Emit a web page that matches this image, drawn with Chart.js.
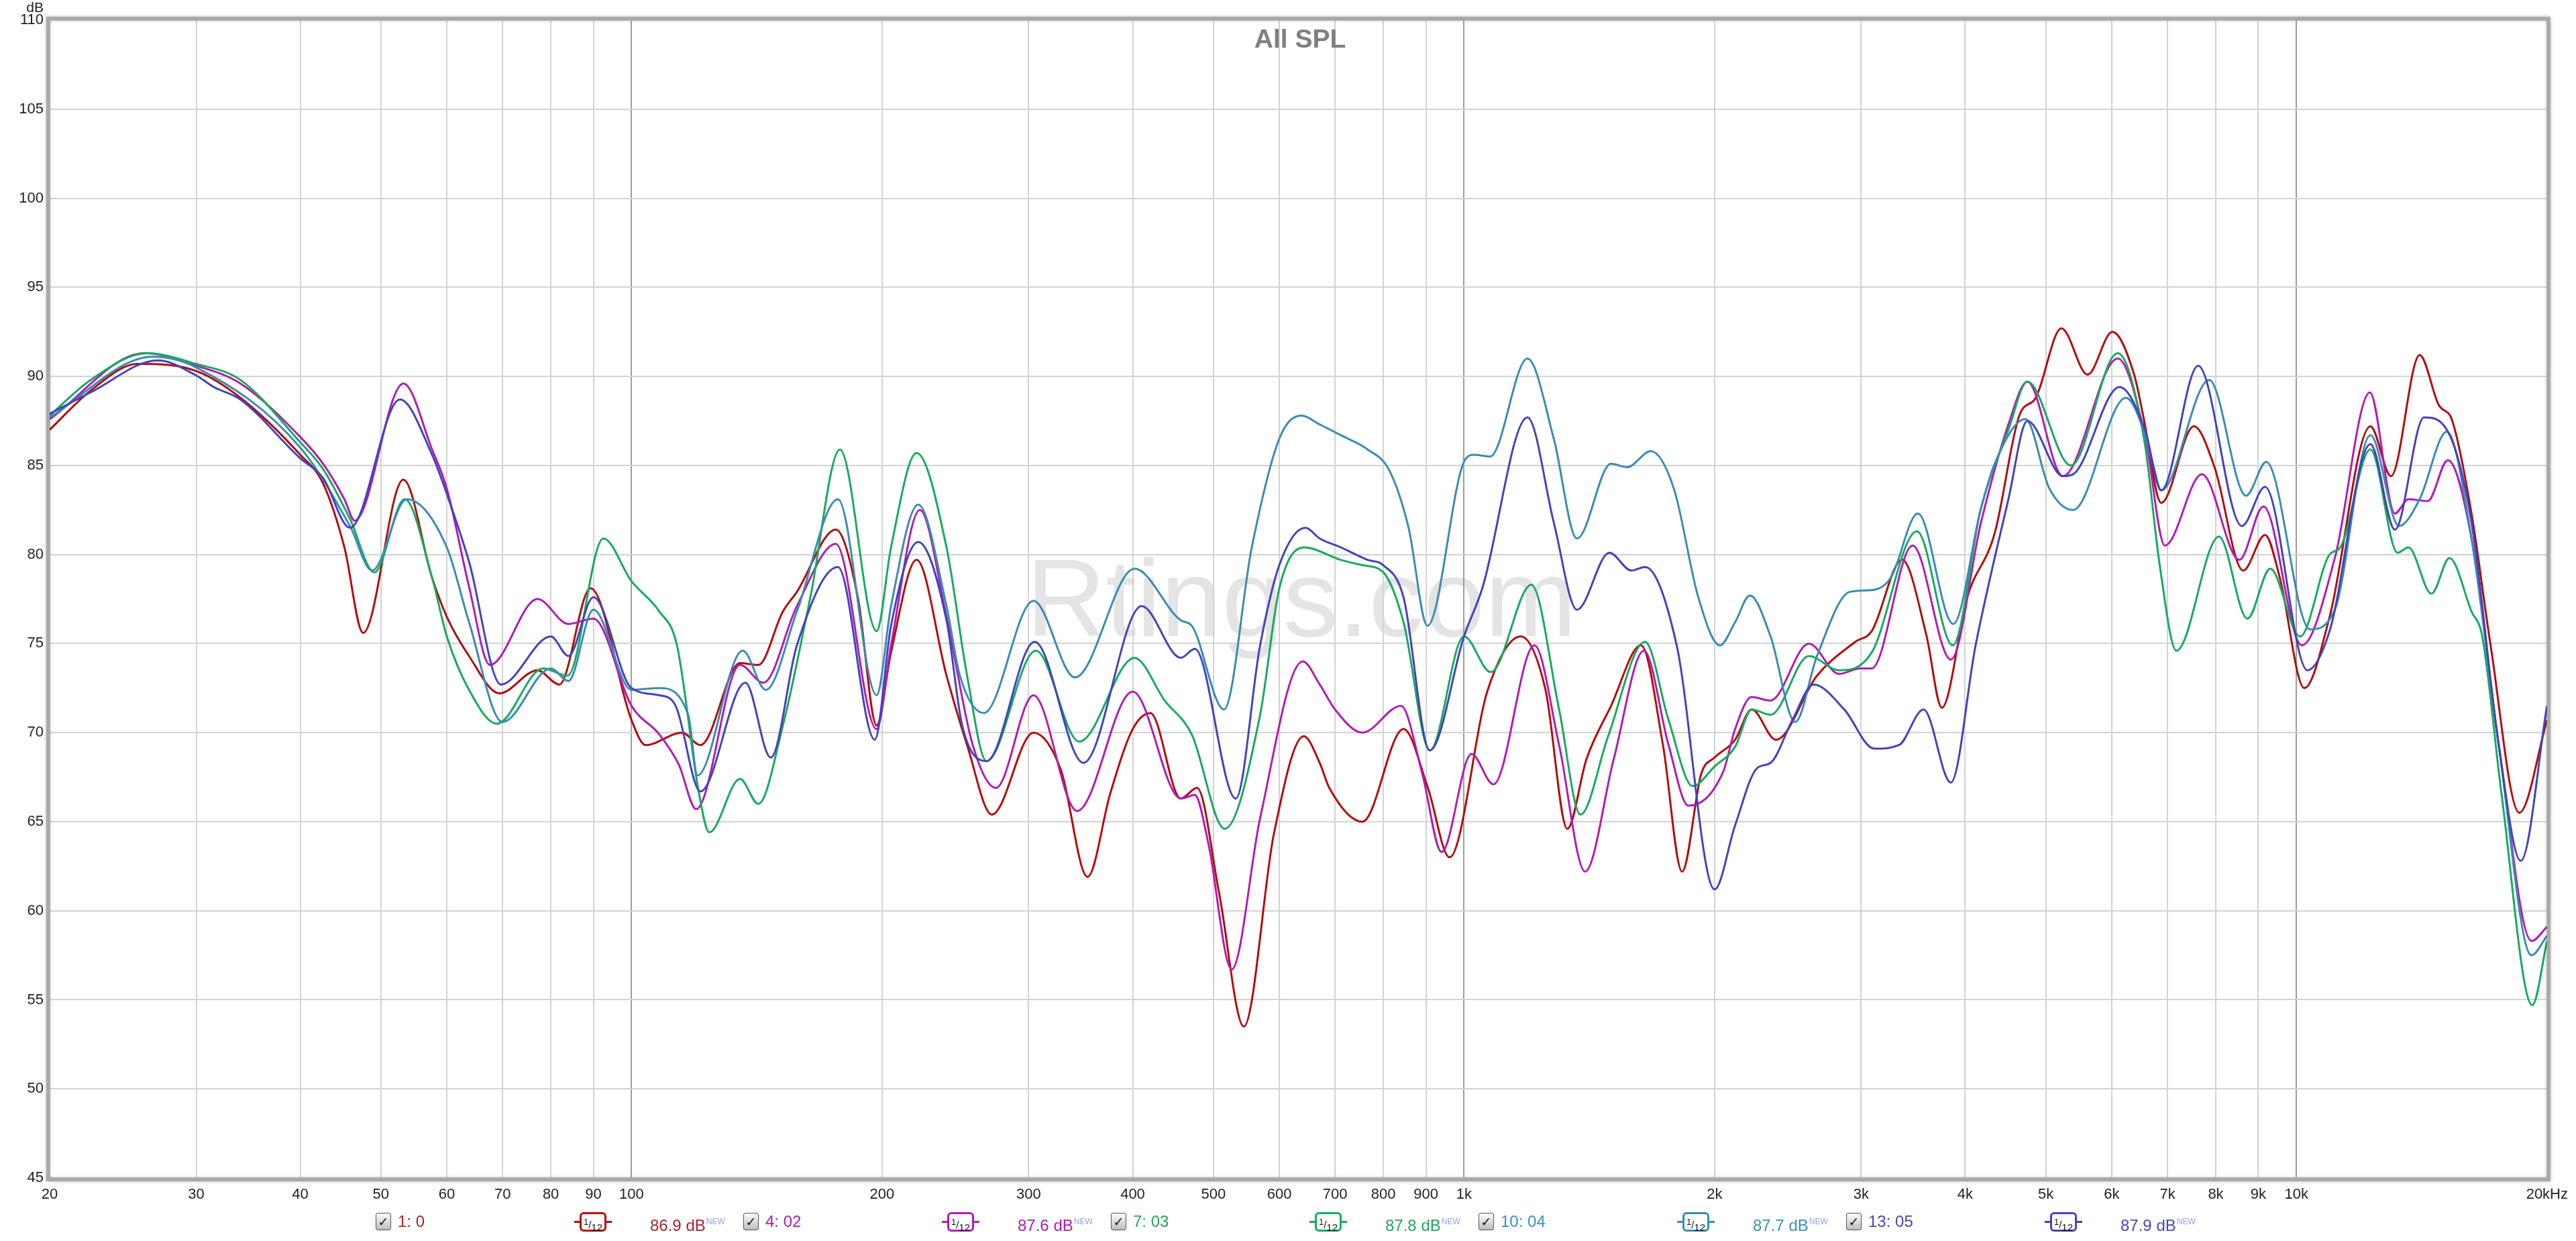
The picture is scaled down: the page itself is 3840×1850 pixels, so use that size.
<!DOCTYPE html>
<html>
<head>
<meta charset="utf-8">
<title>All SPL</title>
<script src="https://cdn.jsdelivr.net/npm/chart.js@4.4.0/dist/chart.umd.min.js"></script>
<style>
    html, body { margin: 0; padding: 0; background: #fff; }
    #wrap { position: relative; width: 3840px; height: 1850px; overflow: hidden;
            font-family: "Liberation Sans", Arial, sans-serif; }
    #chart { position: absolute; left: 0; top: 0; z-index: 1; }
    .watermark { position: absolute; left: 1940px; top: 810px; transform: translateX(-50%);
                 font-size: 164px; line-height: 164px; color: #e4e4e4; z-index: 0; white-space: nowrap; }
    .title { position: absolute; left: 1938px; top: 38px; transform: translateX(-50%);
             font-size: 39px; line-height: 39px; font-weight: bold; color: #7f7f7f; z-index: 2; }
    .unit { position: absolute; left: 0; width: 65px; top: 0; text-align: right;
            font-size: 21px; line-height: 21px; color: #222; z-index: 2; }
    .legend-item { position: absolute; top: 1808px; height: 28px; z-index: 2;
                   font-family: "Liberation Sans Narrow", "Arial Narrow", "Liberation Sans", Arial, sans-serif;
                   font-size: 24px; line-height: 26px; }
    .legend-item .box { position: absolute; left: 0; top: 0; width: 21px; height: 24px;
                        border: 1px solid #555; border-radius: 3px;
                        background: linear-gradient(#fdfdfd, #bdbdbd);
                        font-family: "DejaVu Sans", sans-serif; font-size: 19px; line-height: 24px;
                        text-align: center; font-weight: bold; color: #111; }
    .legend-item .name { position: absolute; left: 33px; top: 0; white-space: nowrap; }
    .legend-item .smooth { position: absolute; left: 296px; top: -1px; width: 56px; height: 28px; }
    .legend-item .smooth .wire { position: absolute; left: 0; top: 13px; width: 56px; height: 3px; }
    .legend-item .smooth .frame { position: absolute; left: 8px; top: 0; width: 34px; height: 23px;
                                  border: 3px solid; border-radius: 6px; background: #fff;
                                  font-family: "Liberation Sans", Arial, sans-serif; color: #111;
                                  font-size: 15px; line-height: 23px; text-align: center; }
    .legend-item .smooth sup { font-size: 13px; vertical-align: 5px; }
    .legend-item .smooth sub { font-size: 15px; vertical-align: -4px; }
    .legend-item .level { position: absolute; left: 409px; top: 0; white-space: nowrap; }
    .legend-item .level sup { font-size: 12px; color: #9c9ce6; vertical-align: 10px; margin-left: 1px; }
</style>
</head>
<body>
<div id="wrap">
    <div class="watermark">Rtings.com</div>
    <canvas id="chart" width="3840" height="1850"></canvas>
    <div class="title">All SPL</div>
    <div class="unit">dB</div>
</div>

<script>
// ------------------- DATA -------------------
// x axis ticks (Hz) and their labels
const xTicks = [20, 30, 40, 50, 60, 70, 80, 90, 100, 200, 300, 400, 500, 600, 700, 800, 900,
                1000, 2000, 3000, 4000, 5000, 6000, 7000, 8000, 9000, 10000, 20000];
const xTickLabels = ['20', '30', '40', '50', '60', '70', '80', '90', '100', '200', '300', '400', '500', '600', '700', '800', '900',
                     '1k', '2k', '3k', '4k', '5k', '6k', '7k', '8k', '9k', '10k', '20kHz'];

// legend texts
const seriesNames = ['1: 0', '4: 02', '7: 03', '10: 04', '13: 05'];
const seriesLevels = ['86.9 dB', '87.6 dB', '87.8 dB', '87.7 dB', '87.9 dB'];

// 1: 0
const freq1 = [20, 22.4, 25.5, 30, 33.9, 40, 42.6, 45.2, 47.6, 53.2, 57.6, 60, 63.8, 69.4, 77.1, 81.9, 89.3, 100, 104, 115,
               121, 135, 142, 152, 158, 176, 187, 197, 205, 220, 239, 253, 271, 304, 328, 353, 376, 400, 420, 457,
               478, 508, 544, 591, 642, 671, 689, 755, 846, 905, 961, 1068, 1170, 1253, 1331, 1403, 1502, 1632, 1734, 1828,
               1928, 2000, 2117, 2216, 2370, 2655, 2952, 3089, 3360, 3592, 3750, 4023, 4341, 4646, 4863, 5220, 5612, 6010, 6383, 6551,
               6880, 7530, 7973, 8630, 9170, 9550, 10220, 10960, 12270, 12990, 14060, 14820, 15390, 16230, 17110, 18520, 20000];
const spl1 = [87.0, 89.2, 90.7, 90.3, 88.8, 85.6, 84.0, 80.4, 75.6, 84.2, 78.7, 76.5, 74.3, 72.2, 73.5, 72.7, 78.1, 70.7, 69.3, 70.0,
              69.3, 73.9, 73.8, 76.8, 77.9, 81.4, 77.6, 70.4, 74.5, 79.7, 73.2, 69.3, 65.4, 70.0, 67.9, 61.9, 66.6, 70.2, 71.1, 66.3,
              66.9, 61.0, 53.5, 64.3, 69.8, 68.3, 66.9, 65.0, 70.2, 66.9, 63.0, 72.4, 75.4, 72.4, 64.6, 68.5, 71.5, 74.9, 69.3, 62.2,
              67.7, 68.6, 69.6, 71.3, 69.6, 73.2, 75.1, 75.7, 79.7, 75.5, 71.4, 77.6, 81.2, 87.8, 88.8, 92.7, 90.1, 92.5, 90.1, 87.7,
              82.9, 87.2, 84.9, 79.1, 81.1, 78.7, 72.5, 76.5, 87.2, 84.4, 91.2, 88.4, 87.5, 82.3, 74.9, 65.5, 70.7];

// 4: 02
const freq4 = [20, 26, 30, 33.9, 40, 42.6, 45.2, 46.5, 53.2, 57.6, 60, 63.8, 67.6, 77.1, 84, 90, 100, 108, 114, 119.6,
               135, 144, 158, 176, 197, 205, 222, 239, 257, 274, 304, 343, 400, 457, 475, 493, 526, 569, 640, 671,
               700, 755, 840, 891, 940, 1021, 1085, 1215, 1301, 1398, 1513, 1645, 1761, 1860, 2048, 2117, 2216, 2335, 2596, 2821,
               2990, 3089, 3459, 3845, 4179, 4508, 4751, 5243, 6100, 6578, 6950, 7700, 8540, 9130, 10150, 11120, 12250, 13130, 13630, 14380,
               15200, 16230, 17500, 19160, 20000];
const spl4 = [87.6, 91.3, 90.6, 89.6, 86.6, 85.1, 83.1, 81.9, 89.6, 85.9, 83.7, 78.2, 73.8, 77.5, 76.1, 76.4, 71.5, 69.9, 68.2, 65.7,
              73.8, 72.8, 77.1, 80.6, 70.2, 74.9, 82.5, 76.5, 69.3, 66.9, 72.1, 65.6, 72.3, 66.3, 66.5, 63.8, 56.7, 65.2, 74.0, 72.7,
              71.3, 70.0, 71.5, 67.7, 63.3, 68.8, 67.1, 74.9, 69.3, 62.2, 68.5, 74.6, 69.3, 65.9, 67.8, 70.2, 72.0, 71.8, 75.0, 73.3,
              73.6, 73.6, 80.5, 74.1, 81.8, 87.3, 89.7, 84.4, 91.0, 86.7, 80.5, 84.5, 79.7, 82.7, 74.9, 79.8, 89.1, 82.3, 83.1, 83.0,
              85.3, 80.9, 69.3, 58.3, 59.1];

// 7: 03
const freq7 = [20, 22.4, 26.2, 30, 33.9, 40, 42.6, 45.9, 49.1, 53.4, 57.6, 60, 63.8, 68.9, 78.3, 83.8, 92.5, 100, 108, 113.4,
               120.5, 124, 135, 142, 152, 164, 178, 197, 205, 220, 239, 253, 267, 306, 345, 402, 437, 471, 516, 569,
               600, 642, 711, 755, 800, 846, 910, 1000, 1077, 1205, 1301, 1380, 1490, 1650, 1761, 1883, 2000, 2117, 2216, 2335,
               2596, 2821, 3089, 3500, 3865, 4179, 4508, 4751, 5360, 6100, 6560, 6856, 7174, 8070, 8732, 9300, 10100, 10960, 11290, 12270,
               13230, 13630, 14530, 15270, 16230, 16720, 17630, 19200, 20000];
const spl7 = [87.8, 89.8, 91.3, 90.7, 89.8, 86.3, 84.8, 82.0, 79.0, 83.1, 78.7, 75.4, 72.4, 70.5, 73.6, 73.2, 80.9, 78.5, 76.8, 74.9,
              66.6, 64.4, 67.4, 66.0, 70.4, 77.6, 85.9, 75.7, 80.4, 85.7, 80.4, 73.2, 68.4, 74.6, 69.5, 74.2, 71.8, 69.9, 64.6, 71.0,
              78.1, 80.4, 79.7, 79.4, 79.0, 76.2, 69.0, 75.4, 73.4, 78.3, 71.3, 65.4, 69.8, 75.1, 70.7, 67.0, 68.1, 69.2, 71.3, 71.0,
              74.3, 73.5, 74.5, 81.3, 74.9, 82.6, 87.0, 89.7, 85.0, 91.3, 86.5, 79.3, 74.6, 81.0, 76.4, 79.2, 75.4, 80.0, 80.4, 85.9,
              80.1, 80.4, 77.8, 79.8, 76.8, 75.4, 66.6, 54.7, 58.3];

// 10: 04
const freq10 = [20, 26.6, 30, 40, 45.9, 48.8, 53.7, 60, 63.8, 70, 80, 84, 90, 100, 108, 117, 120, 136, 145, 158,
                177, 197, 205, 221, 239, 248, 265, 304, 341, 402, 457, 471, 515, 556, 600, 638, 671, 711, 766, 814,
                858, 904, 1000, 1029, 1075, 1192, 1282, 1367, 1502, 1571, 1676, 1787, 1912, 2030, 2117, 2205, 2335, 2500, 2655, 2907,
                3089, 3257, 3510, 3870, 4179, 4341, 4725, 5050, 5390, 6240, 6551, 6730, 6880, 7857, 8700, 9200, 10380, 11120, 12270, 13280,
                14060, 15160, 16230, 17500, 19160, 20000];
const spl10 = [87.7, 91.1, 90.5, 86.0, 81.6, 79.1, 83.1, 80.4, 76.2, 70.6, 73.6, 72.9, 76.9, 72.4, 72.5, 71.0, 67.6, 74.6, 72.4, 76.8,
               83.1, 72.1, 77.1, 82.8, 77.1, 73.2, 71.1, 77.4, 73.1, 79.2, 76.3, 76.0, 71.3, 80.4, 86.5, 87.8, 87.3, 86.7, 85.9, 84.7,
               81.5, 76.0, 85.2, 85.6, 85.5, 91.0, 86.5, 80.9, 85.1, 84.9, 85.8, 83.7, 77.6, 74.9, 76.2, 77.7, 75.4, 70.6, 74.3, 77.9,
               78.0, 78.7, 82.3, 76.1, 82.6, 85.1, 87.6, 83.7, 82.5, 88.8, 87.0, 85.0, 83.6, 89.8, 83.3, 85.2, 75.8, 76.9, 86.7, 81.6,
               83.1, 86.9, 80.9, 69.3, 57.5, 58.6];

// 13: 05
const freq13 = [20, 22.4, 27, 30, 31.5, 33.9, 40, 42.6, 45.9, 52.7, 57.6, 60, 63.8, 69.7, 80, 84, 90, 100, 108, 113,
                121, 137, 147, 158, 177, 196, 205, 221, 239, 249.6, 267, 305, 349, 410, 457, 475, 532, 569, 600, 645,
                671, 711, 766, 800, 846, 910, 1000, 1052, 1192, 1282, 1367, 1495, 1589, 1650, 1801, 2000, 2117, 2249, 2335, 2480,
                2630, 2863, 3111, 3331, 3565, 3845, 4117, 4508, 4751, 5243, 5390, 6130, 6578, 6880, 7620, 8600, 9170, 10310, 10960, 12270,
                13130, 14230, 15160, 16230, 17500, 18600, 20000];
const spl13 = [87.9, 89.1, 90.9, 90.05, 89.4, 88.7, 85.4, 84.3, 81.5, 88.7, 85.6, 83.4, 79.6, 72.7, 75.4, 74.3, 77.6, 72.5, 72.1, 71.5,
               66.7, 72.8, 68.6, 74.9, 79.3, 69.6, 76.0, 80.7, 76.3, 70.4, 68.4, 75.1, 68.3, 77.1, 74.2, 74.7, 66.3, 74.9, 79.4, 81.5,
               80.9, 80.4, 79.7, 79.4, 77.6, 69.0, 75.4, 78.1, 87.7, 81.8, 76.9, 80.1, 79.1, 79.3, 74.9, 61.2, 64.8, 68.0, 68.3, 70.7,
               72.7, 71.3, 69.1, 69.3, 71.3, 67.2, 74.9, 83.1, 87.5, 84.4, 84.5, 89.4, 87.0, 83.6, 90.6, 81.6, 83.8, 73.5, 75.7, 86.2,
               81.4, 87.7, 87.0, 81.8, 69.3, 62.8, 71.5];

// ------------------- STYLE -------------------
const colors = ['#b30d0d', '#b21cb4', '#17ab5d', '#3a8cb2', '#4343bd'];
const textColors = ['#a8242c', '#a81fae', '#21a85e', '#3b8fc0', '#4a46b8'];
const tickFont = { family: '"Liberation Sans", Arial, sans-serif', size: 22 };

function points(freq, spl) {
    return freq.map((f, i) => ({ x: f, y: spl[i] }));
}

// ------------------- FRAME -------------------
const framePlugin = {
    id: 'frame',
    afterDraw(chart) {
        const { ctx, chartArea: a } = chart;
        ctx.save();
        ctx.shadowColor = 'rgba(0,0,0,0.3)';
        ctx.shadowBlur = 5;
        ctx.strokeStyle = '#a9a9a9';
        ctx.lineWidth = 5;
        ctx.strokeRect(a.left - 2.5, a.top - 2.5, a.right - a.left + 5, a.bottom - a.top + 5);
        ctx.restore();
    }
};

// ------------------- CHART -------------------
const allFreq = [freq1, freq4, freq7, freq10, freq13];
const allSpl = [spl1, spl4, spl7, spl10, spl13];

const datasets = seriesNames.map((name, i) => ({
    label: name,
    data: points(allFreq[i], allSpl[i]),
    borderColor: colors[i],
    backgroundColor: colors[i],
    borderWidth: 3,
    pointRadius: 0,
    fill: false,
    cubicInterpolationMode: 'monotone',
    order: 5 - i
}));

new Chart(document.getElementById('chart'), {
    type: 'line',
    data: { datasets: datasets },
    options: {
        responsive: false,
        animation: false,
        devicePixelRatio: 1,
        layout: { padding: { top: 30, right: 37, bottom: 44, left: 0 } },
        plugins: {
            legend: { display: false },
            tooltip: { enabled: false },
            title: { display: false }
        },
        scales: {
            x: {
                type: 'logarithmic',
                min: 20,
                max: 20000,
                afterBuildTicks: scale => { scale.ticks = xTicks.map(v => ({ value: v })); },
                afterFit: scale => { scale.height = 50; },
                ticks: {
                    autoSkip: false,
                    maxRotation: 0,
                    padding: 12,
                    color: '#222',
                    font: tickFont,
                    callback: (value, index) => xTickLabels[index]
                },
                grid: {
                    drawTicks: false,
                    lineWidth: 2,
                    color: ctx => (ctx.tick && [100, 1000, 10000].includes(ctx.tick.value)) ? '#9c9c9c' : '#d3d3d3'
                },
                border: { display: false }
            },
            y: {
                min: 45,
                max: 110,
                afterFit: scale => { scale.width = 74; },
                ticks: {
                    stepSize: 5,
                    padding: 9,
                    color: '#222',
                    font: tickFont
                },
                grid: { drawTicks: false, lineWidth: 2, color: '#d3d3d3' },
                border: { display: false }
            }
        }
    },
    plugins: [framePlugin]
});

// ------------------- LEGEND -------------------
const wrap = document.getElementById('wrap');
seriesNames.forEach((name, i) => {
    const item = document.createElement('div');
    item.className = 'legend-item';
    item.style.left = (560 + 548 * i) + 'px';
    item.innerHTML = `
        <span class="box">✓</span>
        <span class="name" style="color:${textColors[i]}">${name}</span>
        <span class="smooth">
            <span class="wire" style="background:${colors[i]}"></span>
            <span class="frame" style="border-color:${colors[i]}"><sup>1</sup>/<sub>12</sub></span>
        </span>
        <span class="level" style="color:${textColors[i]}">${seriesLevels[i]}<sup>NEW</sup></span>
    `;
    wrap.appendChild(item);
});
</script>
</body>
</html>
